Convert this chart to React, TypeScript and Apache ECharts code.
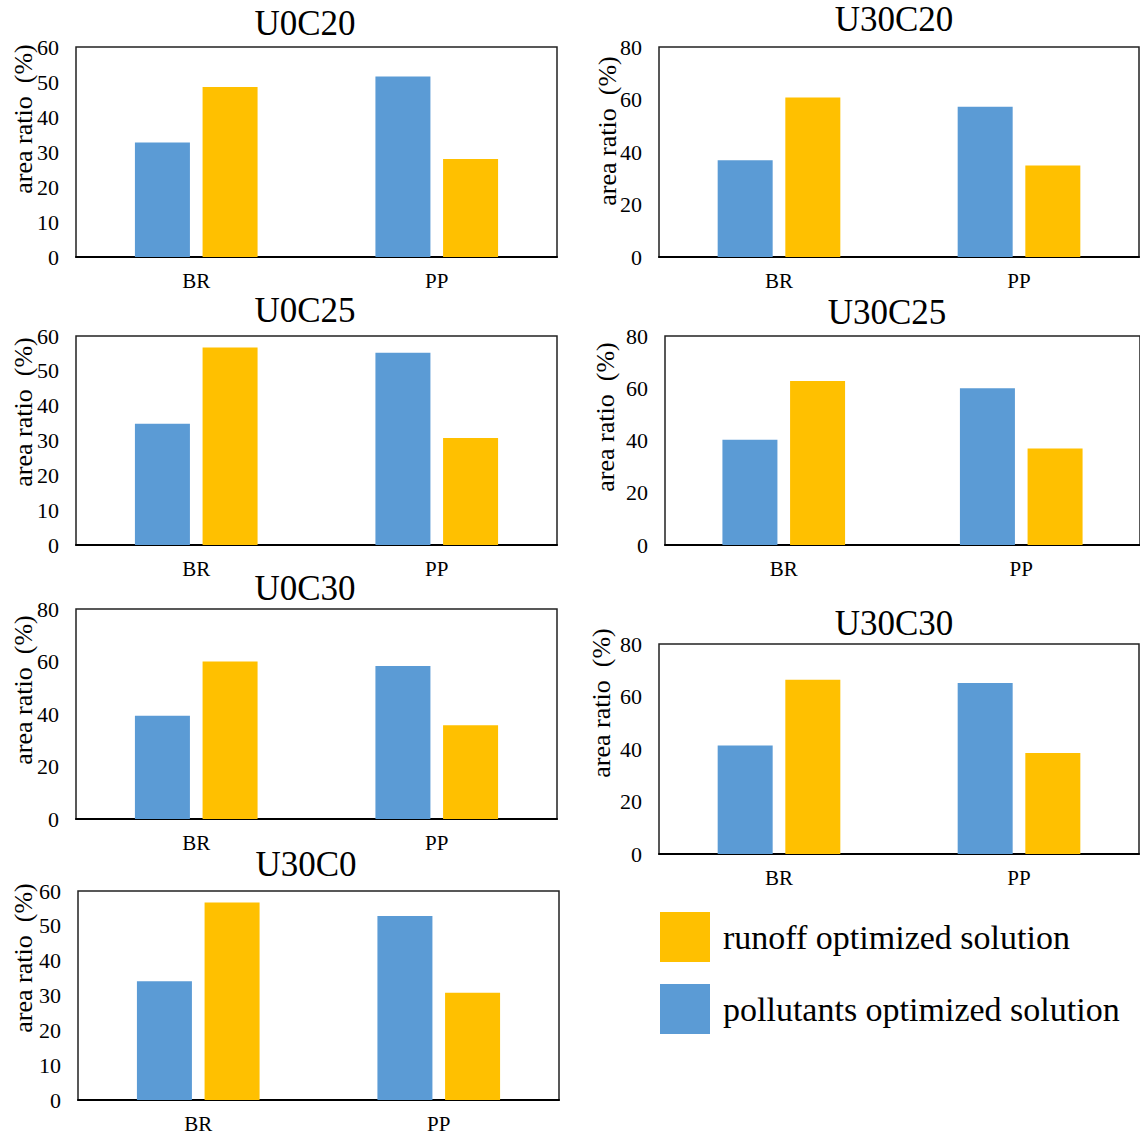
import React, { useEffect, useRef } from "react";
import * as echarts from "echarts";

const categories = ["BR", "PP"];
const panelTitles = ["U0C20", "U30C20", "U0C25", "U30C25", "U0C30", "U30C30", "U30C0"];
const pollutantsValues = [
  [32.7, 51.6],
  [36.9, 57.2],
  [34.8, 55.2],
  [40.3, 60.0],
  [39.3, 58.3],
  [41.3, 65.1],
  [34.1, 52.8],
];
const runoffValues = [
  [48.6, 28.0],
  [60.8, 34.9],
  [56.7, 30.7],
  [62.8, 36.9],
  [60.0, 35.7],
  [66.4, 38.5],
  [56.7, 30.8],
];
const yMaxes = [60, 80, 60, 80, 80, 80, 60];
const yIntervals = [10, 20, 10, 20, 20, 20, 10];
const seriesNames = ["pollutants optimized solution", "runoff optimized solution"];
const yAxisName = "area ratio  (%)";

// layout (positions / sizes)
const grids = [
  { left: 76, top: 47, width: 481, height: 210 },
  { left: 659, top: 47, width: 480, height: 210 },
  { left: 76, top: 336, width: 481, height: 209 },
  { left: 665, top: 336, width: 481, height: 209 },
  { left: 76, top: 609, width: 481, height: 210 },
  { left: 659, top: 644, width: 480, height: 210 },
  { left: 78, top: 891, width: 481, height: 209 },
];
const titlePos = [
  [305, 25], [894, 21], [305, 312], [887, 314], [305, 590], [894, 625], [306, 866],
];
const namePos = [
  [23, 119], [607, 131], [23, 412], [605, 417], [23, 690], [601, 703], [23, 958],
];

const FONT = "Liberation Serif, Times New Roman, serif";
const BLUE = "#5B9BD5";
const ORANGE = "#FFC000";

export default function App() {
  const ref = useRef<HTMLDivElement>(null);
  useEffect(() => {
    if (!ref.current) return;
    const chart = echarts.init(ref.current, null, { renderer: "svg" });
    const option: any = {
      animation: false,
      backgroundColor: "#fff",
      textStyle: { fontFamily: FONT },
      title: panelTitles.map((t, i) => ({
        text: t,
        left: titlePos[i][0],
        top: titlePos[i][1] - 19,
        textAlign: "center",
        padding: 0,
        textStyle: { fontFamily: FONT, fontSize: 35, fontWeight: "normal", color: "#000" },
      })),
      legend: {
        orient: "vertical",
        left: 660,
        top: 912,
        padding: 0,
        itemWidth: 50,
        itemHeight: 50,
        itemGap: 22,
        icon: "rect",
        data: [seriesNames[1], seriesNames[0]],
        textStyle: { fontFamily: FONT, fontSize: 34, color: "#000", padding: [0, 0, 0, 8] },
      },
      grid: grids.map((g) => ({
        ...g,
        show: true,
        borderColor: "#222",
        borderWidth: 1.5,
        backgroundColor: "transparent",
      })),
      xAxis: grids.map((_, i) => ({
        type: "category",
        gridIndex: i,
        data: categories,
        axisTick: { show: false },
        axisLine: { lineStyle: { color: "#000", width: 2 } },
        axisLabel: { fontFamily: FONT, fontSize: 21, color: "#000", margin: 13 },
      })),
      yAxis: grids.map((_, i) => ({
        type: "value",
        gridIndex: i,
        min: 0,
        max: yMaxes[i],
        interval: yIntervals[i],
        axisLine: { show: false },
        axisTick: { show: false },
        splitLine: { show: false },
        axisLabel: { fontFamily: FONT, fontSize: 22, color: "#000", margin: 17 },
      })),
      series: grids.flatMap((_, i) => [
        {
          type: "bar",
          name: seriesNames[0],
          xAxisIndex: i,
          yAxisIndex: i,
          data: pollutantsValues[i],
          barWidth: 55,
          barGap: "23%",
          itemStyle: { color: BLUE },
        },
        {
          type: "bar",
          name: seriesNames[1],
          xAxisIndex: i,
          yAxisIndex: i,
          data: runoffValues[i],
          barWidth: 55,
          barGap: "23%",
          itemStyle: { color: ORANGE },
        },
      ]),
      graphic: namePos.map((p) => ({
        type: "text",
        x: p[0],
        y: p[1],
        rotation: Math.PI / 2,
        style: {
          text: yAxisName,
          font: `26px ${FONT}`,
          fill: "#000",
          textAlign: "center",
          textVerticalAlign: "middle",
        },
      })),
    };
    chart.setOption(option);
    return () => chart.dispose();
  }, []);
  return (
    <div
      ref={ref}
      style={{ position: "absolute", left: 0, top: 0, width: 1140, height: 1134 }}
    />
  );
}
